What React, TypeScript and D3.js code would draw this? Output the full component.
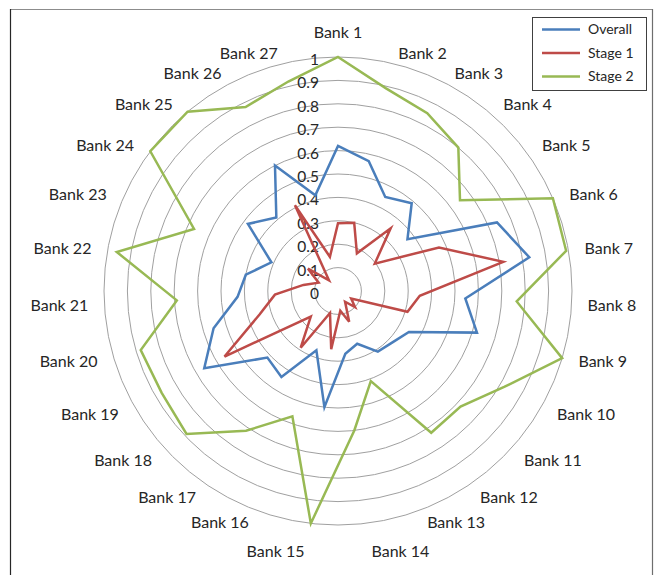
import React from 'react';
import * as d3 from 'd3';

const banks = d3.range(1, 28).map(i => `Bank ${i}`);

const overall = [0.62, 0.57, 0.45, 0.49, 0.37, 0.74, 0.83, 0.545, 0.62, 0.35, 0.32, 0.31, 0.24, 0.27, 0.5, 0.27, 0.44, 0.415, 0.66, 0.555, 0.43, 0.4, 0.31, 0.48, 0.41, 0.6, 0.42];
const stage1 = [0.29, 0.3, 0.18, 0.35, 0.196, 0.47, 0.717, 0.35, 0.31, 0.065, 0.1, 0.055, 0.14, 0.085, 0.25, 0.1, 0.29, 0.16, 0.56, 0.35, 0.27, 0.15, 0.09, 0.16, 0.06, 0.41, 0.15];
const stage2 = [1.0, 0.89, 0.85, 0.8, 0.65, 1.0, 0.99, 0.765, 1.0, 0.82, 0.72, 0.725, 0.41, 0.6, 1.0, 0.57, 0.715, 0.89, 0.87, 0.88, 0.69, 0.96, 0.67, 1.0, 1.0, 0.88, 0.92];

const ticks = [0, 0.1, 0.2, 0.3, 0.4, 0.5, 0.6, 0.7, 0.8, 0.9, 1];

const seriesList = [
  { name: 'Overall', values: overall, color: '#4a7ebb' },
  { name: 'Stage 1', values: stage1, color: '#be4b48' },
  { name: 'Stage 2', values: stage2, color: '#98b954' },
];

const W = 661;
const H = 575;
const cx = 338;
const cy = 291;
const R = 234;
const font = 'Lato, "Open Sans", sans-serif';

export default function App() {
  const r = d3.scaleLinear().domain([0, 1]).range([0, R]);
  const angle = d3.scaleLinear().domain([0, banks.length]).range([0, 2 * Math.PI]);

  const radial = d3.lineRadial<number>()
    .angle((_, i) => angle(i))
    .radius(d => r(d))
    .curve(d3.curveLinearClosed);

  // category labels placed outside the outer ring, Excel style
  const labels = banks.map((b, i) => {
    const a = angle(i);
    const s = Math.sin(a);
    const c = Math.cos(a);
    let x: number, y: number, anchor: string;
    if (Math.abs(s) < 0.05) {
      x = cx; y = cy - 259; anchor = 'middle';
    } else if (Math.abs(s) < 0.15) {
      x = cx + 250 * s + Math.sign(s) * 4.5;
      y = cy - 250 * c + (c < 0 ? 12 : -9);
      anchor = s > 0 ? 'start' : 'end';
    } else {
      const rl = 250 + 12 * c * c;
      x = cx + rl * s;
      y = cy - 250 * c + (c > 0 ? 6 * c : 3.5 * c);
      anchor = s > 0 ? 'start' : 'end';
    }
    return { b, x, y, anchor };
  });

  return (
    <svg width={W} height={H} style={{ position: 'absolute', left: 0, top: 0, background: '#fff' }}>
      {/* chart frame */}
      <line x1={10} x2={653} y1={9.5} y2={9.5} stroke="#8c8c8c" strokeWidth={1.2} />
      <line x1={10.5} x2={10.5} y1={9} y2={H} stroke="#262626" strokeWidth={1.2} />
      <line x1={652.5} x2={652.5} y1={9} y2={H} stroke="#6e6e6e" strokeWidth={1.2} />

      <g transform={`translate(${cx},${cy})`}>
        {ticks.filter(t => t > 0).map(t => (
          <circle key={t} r={r(t)} fill="none" stroke="#a0a0a0" strokeWidth={1} />
        ))}
        {ticks.map(t => (
          <text key={'t' + t} x={-19} y={-r(t) + 2.5} dy="0.35em" textAnchor="end"
            fontFamily={font} fontSize={15.5} fill="#262626">{String(t)}</text>
        ))}
        {seriesList.map(s => (
          <path key={s.name} d={radial(s.values) || ''} fill="none" stroke={s.color}
            strokeWidth={2.5} strokeLinejoin="miter" />
        ))}
      </g>

      {labels.map(l => (
        <text key={l.b} x={l.x} y={l.y} dy="0.35em" textAnchor={l.anchor as any}
          fontFamily={font} fontSize={16} fill="#262626">{l.b}</text>
      ))}

      {/* legend */}
      <g>
        <rect x={532.5} y={17.5} width={114} height={73} fill="#fff" stroke="#404040" strokeWidth={1} />
        {seriesList.map((s, i) => {
          const ly = 29.5 + i * 23.5;
          return (
            <g key={s.name}>
              <line x1={542} x2={580} y1={ly} y2={ly} stroke={s.color} strokeWidth={2.5} />
              <text x={588} y={ly} dy="0.35em" fontFamily={font} fontSize={14} fill="#262626">{s.name}</text>
            </g>
          );
        })}
      </g>
    </svg>
  );
}
